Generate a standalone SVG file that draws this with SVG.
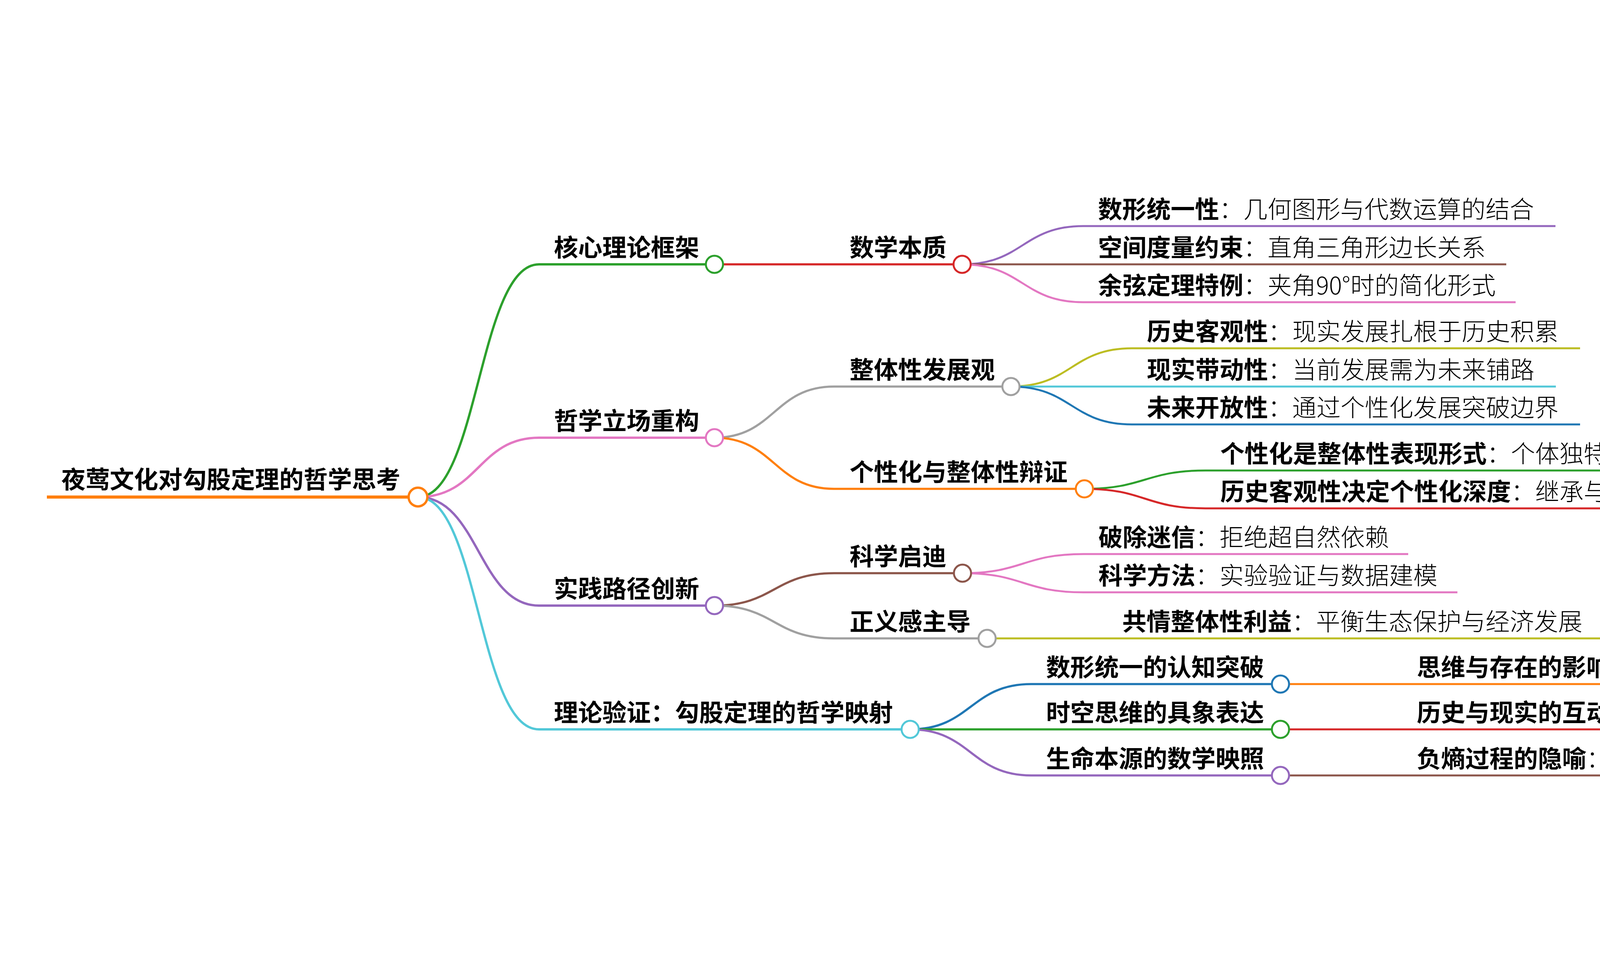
<svg xmlns="http://www.w3.org/2000/svg" width="4975" height="2451" viewBox="0 0 4975 2451">
<style>
.t{font-family:"Noto Sans CJK SC","Noto Sans",sans-serif;font-size:62px;fill:#000}
.b{font-weight:700}
.n{font-weight:300}
.lk{fill:none}
.ul{fill:none}
.c{fill:#fff}
.w0{stroke-width:8}
.w1{stroke-width:6}
.w2{stroke-width:5.5}
.w3{stroke-width:5}
.orange{stroke:#ff7f0e}
.green{stroke:#2ca02c}
.red{stroke:#d62728}
.purple{stroke:#9467bd}
.brown{stroke:#8c564b}
.pink{stroke:#e377c2}
.gray{stroke:#a0a0a0}
.olive{stroke:#bcbd22}
.cyan{stroke:#52c8d8}
.blue{stroke:#1f77b4}
</style>
<rect width="4975" height="2451" fill="#fff"/>
<g id="connectors">
<path class="lk w1 green" d="M1070 1273 C1225 1273 1225 677 1380 677"/>
<path class="lk w1 pink" d="M1070 1273 C1225 1273 1225 1121 1380 1121"/>
<path class="lk w1 purple" d="M1070 1273 C1225 1273 1225 1551 1380 1551"/>
<path class="lk w1 cyan" d="M1070 1273 C1225 1273 1225 1868 1380 1868"/>
<path class="lk w2 red" d="M1829 677 L2135 677"/>
<path class="lk w2 gray" d="M1829 1121 C1982 1121 1982 990 2135 990"/>
<path class="lk w2 orange" d="M1829 1121 C1982 1121 1982 1252 2135 1252"/>
<path class="lk w2 brown" d="M1829 1551 C1982 1551 1982 1468 2135 1468"/>
<path class="lk w2 gray" d="M1829 1551 C1982 1551 1982 1635 2135 1635"/>
<path class="lk w2 blue" d="M2330 1868 C2485 1868 2485 1752 2640 1752"/>
<path class="lk w2 green" d="M2330 1868 L2640 1868"/>
<path class="lk w2 purple" d="M2330 1868 C2485 1868 2485 1986 2640 1986"/>
<path class="lk w3 purple" d="M2463 677 C2618 677 2618 579 2773 579"/>
<path class="lk w3 brown" d="M2463 677 L2773 677"/>
<path class="lk w3 pink" d="M2463 677 C2618 677 2618 774 2773 774"/>
<path class="lk w3 olive" d="M2588 990 C2743 990 2743 892 2898 892"/>
<path class="lk w3 cyan" d="M2588 990 L2898 990"/>
<path class="lk w3 blue" d="M2588 990 C2743 990 2743 1087 2898 1087"/>
<path class="lk w3 green" d="M2776 1252 C2931 1252 2931 1205 3086 1205"/>
<path class="lk w3 red" d="M2776 1252 C2931 1252 2931 1302 3086 1302"/>
<path class="lk w3 pink" d="M2464 1468 C2619 1468 2619 1419 2774 1419"/>
<path class="lk w3 pink" d="M2464 1468 C2619 1468 2619 1517 2774 1517"/>
<path class="lk w3 olive" d="M2527 1635 L2837 1635"/>
<path class="lk w3 orange" d="M3278 1752 L3588 1752"/>
<path class="lk w3 red" d="M3278 1868 L3588 1868"/>
<path class="lk w3 brown" d="M3278 1986 L3588 1986"/>
</g>
<g id="leaf-a1a"><path class="ul w3 purple" d="M2773 579 H3982"/><text class="t" x="2811" y="559"><tspan class="b">数形统一性</tspan><tspan class="n">：几何图形与代数运算的结合</tspan></text></g>
<g id="leaf-a1b"><path class="ul w3 brown" d="M2773 677 H3856"/><text class="t" x="2811" y="657"><tspan class="b">空间度量约束</tspan><tspan class="n">：直角三角形边长关系</tspan></text></g>
<g id="leaf-a1c"><path class="ul w3 pink" d="M2773 774 H3880"/><text class="t" x="2811" y="754"><tspan class="b">余弦定理特例</tspan><tspan class="n">：夹角90°时的简化形式</tspan></text></g>
<g id="leaf-b1a"><path class="ul w3 olive" d="M2898 892 H4045"/><text class="t" x="2936" y="872"><tspan class="b">历史客观性</tspan><tspan class="n">：现实发展扎根于历史积累</tspan></text></g>
<g id="leaf-b1b"><path class="ul w3 cyan" d="M2898 990 H3983"/><text class="t" x="2936" y="970"><tspan class="b">现实带动性</tspan><tspan class="n">：当前发展需为未来铺路</tspan></text></g>
<g id="leaf-b1c"><path class="ul w3 blue" d="M2898 1087 H4045"/><text class="t" x="2936" y="1067"><tspan class="b">未来开放性</tspan><tspan class="n">：通过个性化发展突破边界</tspan></text></g>
<g id="leaf-b2a"><path class="ul w3 green" d="M3086 1205 H4606"/><text class="t" x="3124" y="1185"><tspan class="b">个性化是整体性表现形式</tspan><tspan class="n">：个体独特性推动整体进化</tspan></text></g>
<g id="leaf-b2b"><path class="ul w3 red" d="M3086 1302 H4483"/><text class="t" x="3124" y="1282"><tspan class="b">历史客观性决定个性化深度</tspan><tspan class="n">：继承与突破的平衡</tspan></text></g>
<g id="leaf-c1a"><path class="ul w3 pink" d="M2774 1419 H3605"/><text class="t" x="2812" y="1399"><tspan class="b">破除迷信</tspan><tspan class="n">：拒绝超自然依赖</tspan></text></g>
<g id="leaf-c1b"><path class="ul w3 pink" d="M2774 1517 H3731"/><text class="t" x="2812" y="1497"><tspan class="b">科学方法</tspan><tspan class="n">：实验验证与数据建模</tspan></text></g>
<g id="leaf-c2a"><path class="ul w3 olive" d="M2837 1635 H4107"/><text class="t" x="2873" y="1615"><tspan class="b">共情整体性利益</tspan><tspan class="n">：平衡生态保护与经济发展</tspan></text></g>
<g id="leaf-d1a"><path class="ul w3 orange" d="M3588 1752 H4857"/><text class="t" x="3627" y="1732"><tspan class="b">思维与存在的影响力</tspan><tspan class="n">：空间秩序的哲学表达</tspan></text></g>
<g id="leaf-d2a"><path class="ul w3 red" d="M3588 1868 H4857"/><text class="t" x="3627" y="1848"><tspan class="b">历史与现实的互动</tspan><tspan class="n">：直角三角形的双链结构</tspan></text></g>
<g id="leaf-d3a"><path class="ul w3 brown" d="M3588 1986 H4732"/><text class="t" x="3627" y="1966"><tspan class="b">负熵过程的隐喻</tspan><tspan class="n">：从无序到有序的演进</tspan></text></g>
<g id="node-a1"><path class="ul w2 red" d="M2135 677 H2463"/><text class="t b" x="2175" y="657">数学本质</text><circle class="c w3 red" cx="2463" cy="677" r="22"/></g>
<g id="node-b1"><path class="ul w2 gray" d="M2135 990 H2588"/><text class="t b" x="2175" y="970">整体性发展观</text><circle class="c w3 gray" cx="2588" cy="990" r="22"/></g>
<g id="node-b2"><path class="ul w2 orange" d="M2135 1252 H2776"/><text class="t b" x="2175" y="1232">个性化与整体性辩证</text><circle class="c w3 orange" cx="2776" cy="1252" r="22"/></g>
<g id="node-c1"><path class="ul w2 brown" d="M2135 1468 H2464"/><text class="t b" x="2175" y="1448">科学启迪</text><circle class="c w3 brown" cx="2464" cy="1468" r="22"/></g>
<g id="node-c2"><path class="ul w2 gray" d="M2135 1635 H2527"/><text class="t b" x="2175" y="1615">正义感主导</text><circle class="c w3 gray" cx="2527" cy="1635" r="22"/></g>
<g id="node-d1"><path class="ul w2 blue" d="M2640 1752 H3278"/><text class="t b" x="2678" y="1732">数形统一的认知突破</text><circle class="c w3 blue" cx="3278" cy="1752" r="22"/></g>
<g id="node-d2"><path class="ul w2 green" d="M2640 1868 H3278"/><text class="t b" x="2678" y="1848">时空思维的具象表达</text><circle class="c w3 green" cx="3278" cy="1868" r="22"/></g>
<g id="node-d3"><path class="ul w2 purple" d="M2640 1986 H3278"/><text class="t b" x="2678" y="1966">生命本源的数学映照</text><circle class="c w3 purple" cx="3278" cy="1986" r="22"/></g>
<g id="node-a"><path class="ul w1 green" d="M1380 677 H1829"/><text class="t b" x="1418" y="657">核心理论框架</text><circle class="c w3 green" cx="1829" cy="677" r="22"/></g>
<g id="node-b"><path class="ul w1 pink" d="M1380 1121 H1829"/><text class="t b" x="1418" y="1101">哲学立场重构</text><circle class="c w3 pink" cx="1829" cy="1121" r="22"/></g>
<g id="node-c"><path class="ul w1 purple" d="M1380 1551 H1829"/><text class="t b" x="1418" y="1531">实践路径创新</text><circle class="c w3 purple" cx="1829" cy="1551" r="22"/></g>
<g id="node-d"><path class="ul w1 cyan" d="M1380 1868 H2330"/><text class="t b" x="1418" y="1848">理论验证：勾股定理的哲学映射</text><circle class="c w3 cyan" cx="2330" cy="1868" r="22"/></g>
<g id="node-root"><path class="ul w0 orange" d="M120 1273 H1070"/><text class="t b" x="157" y="1251">夜莺文化对勾股定理的哲学思考</text><circle class="c orange" style="stroke-width:6" cx="1070" cy="1273" r="24"/></g>
</svg>
